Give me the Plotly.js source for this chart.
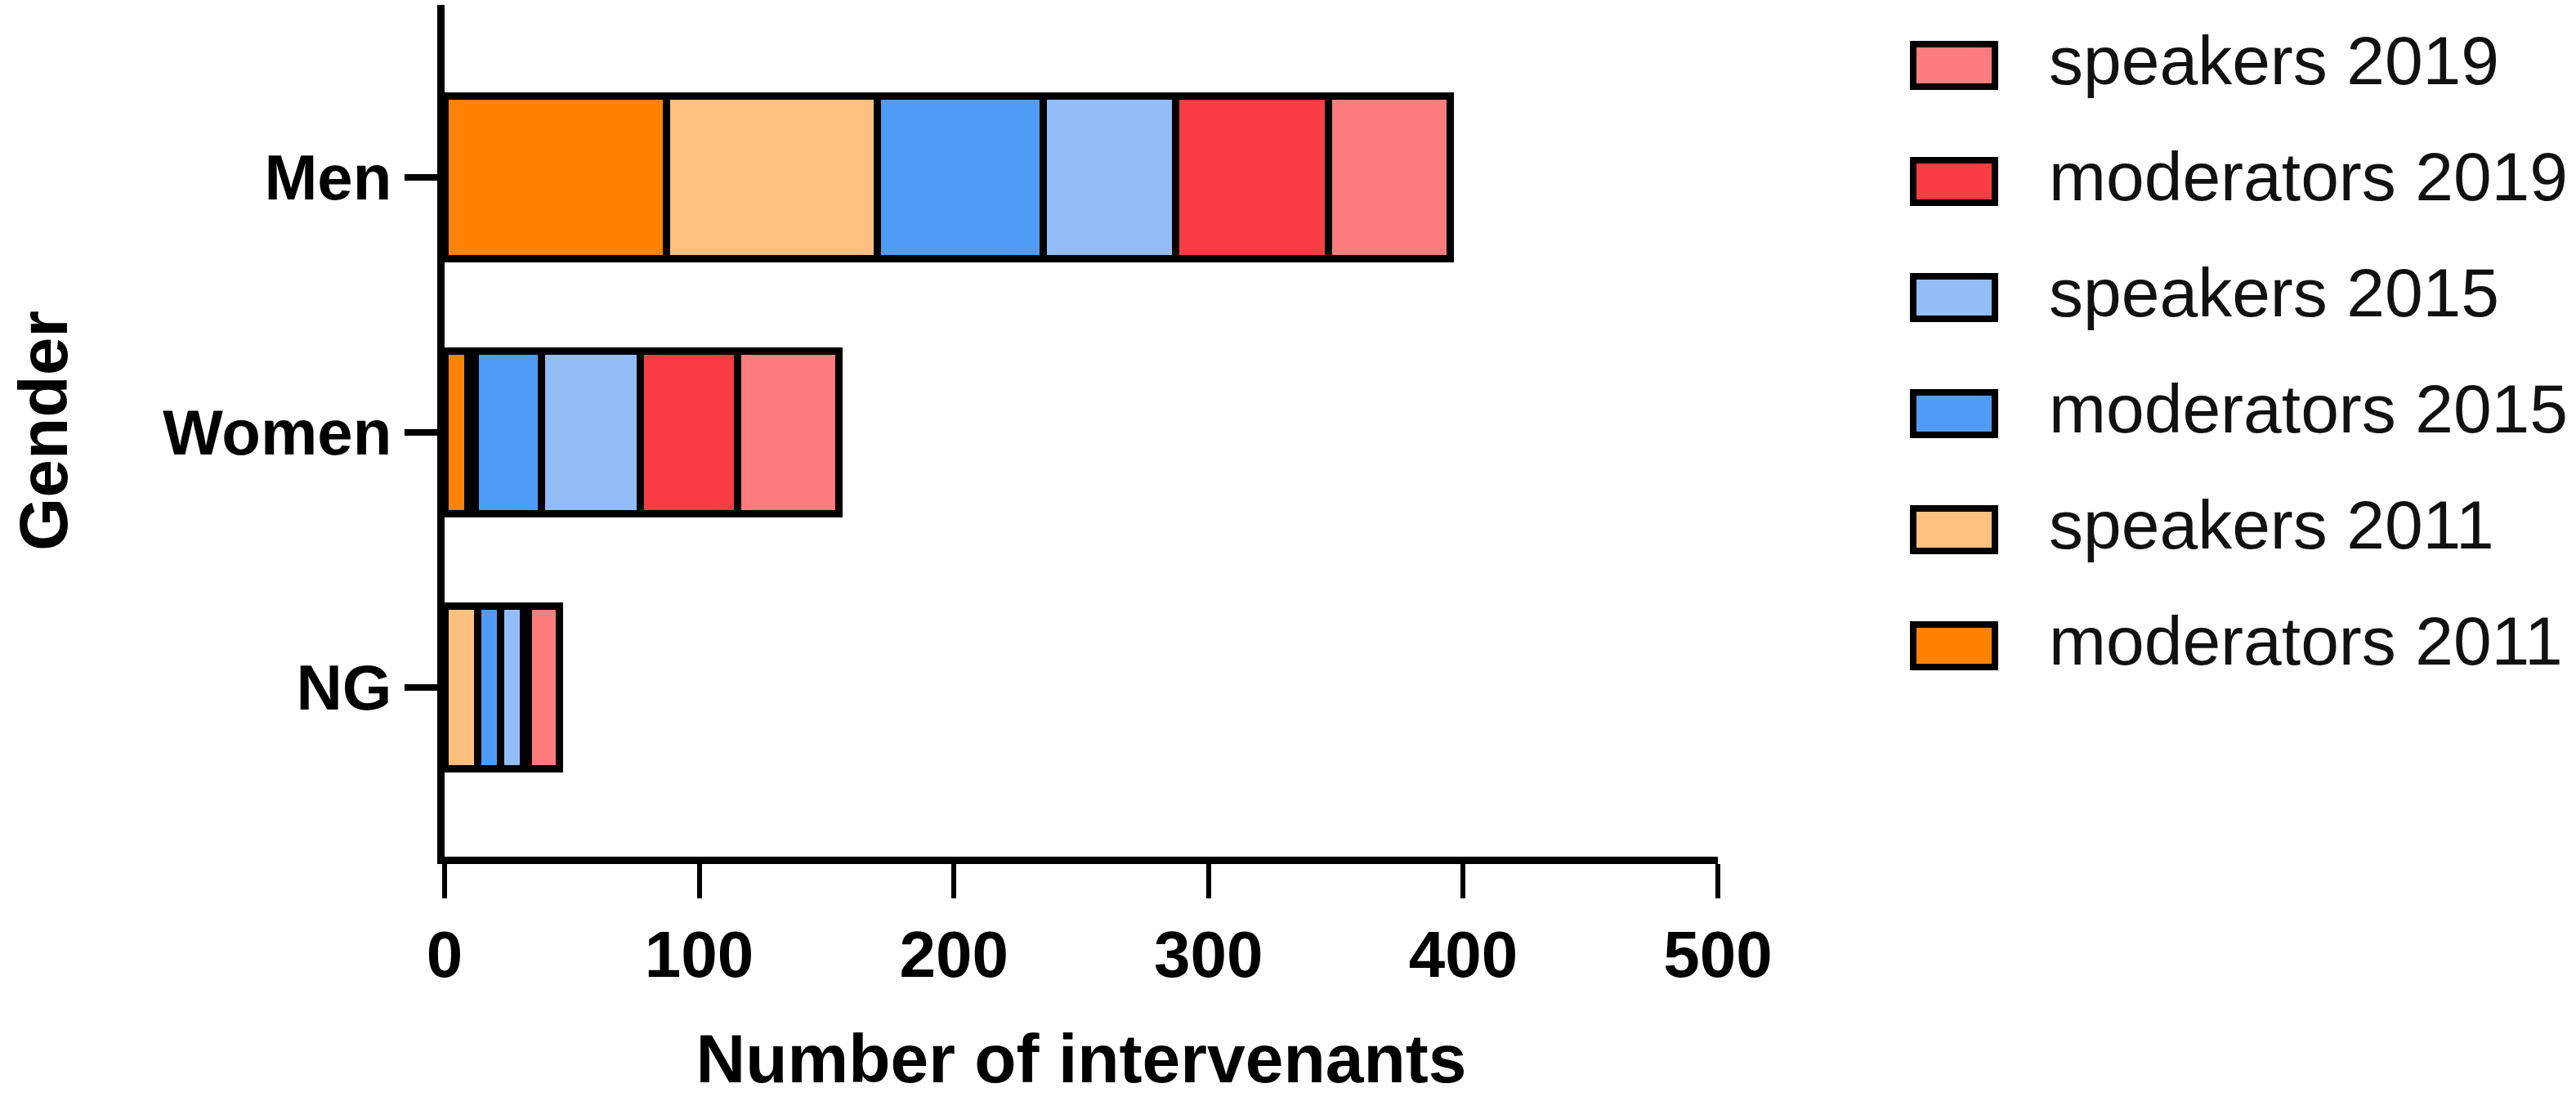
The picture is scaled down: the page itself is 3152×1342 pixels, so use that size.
<!DOCTYPE html>
<html>
<head>
<meta charset="utf-8">
<script src="https://cdn.plot.ly/plotly-3.0.1.min.js"></script>
<style>
  html, body { margin: 0; padding: 0; background: #ffffff; }
  #chart { width: 3152px; height: 1342px; }
</style>
</head>
<body>
<div id="chart"></div>
<script>
// ---- Data ----
const categories = ['NG', 'Women', 'Men'];
const moderators2011 = [0, 9, 87];
const speakers2011   = [13, 3, 83];
const moderators2015 = [9, 26, 65];
const speakers2015   = [9, 39, 52];
const moderators2019 = [2, 38, 60];
const speakers2019   = [12, 40, 48];

const seriesNames  = ['moderators 2011', 'speakers 2011', 'moderators 2015', 'speakers 2015', 'moderators 2019', 'speakers 2019'];
const seriesValues = [moderators2011, speakers2011, moderators2015, speakers2015, moderators2019, speakers2019];
const seriesColors = ['#FF8200', '#FDC07F', '#4F9CF8', '#93BDF7', '#F93D42', '#FD7C7E'];

const xTickVals = [0, 100, 200, 300, 400, 500];
const xTitle = 'Number of intervenants';
const yTitle = 'Gender';

// ---- Traces ----
const traces = seriesNames.map((name, i) => ({
  type: 'bar',
  orientation: 'h',
  name: name,
  y: categories,
  x: seriesValues[i],
  marker: { color: seriesColors[i], line: { color: '#000000', width: 9 } },
  showlegend: false,
  hoverinfo: 'x+name'
}));

// ---- Custom legend (large boxes like the reference) ----
const plotLeft = 544, plotRight = 2102, plotTop = 6, plotBottom = 1048;
const pw = plotRight - plotLeft, ph = plotBottom - plotTop;
const px2paperX = p => (p - plotLeft) / pw;
const px2paperY = p => (plotBottom - p) / ph;

const shapes = [];
const annotations = [];
const legendOrder = seriesNames.map((_, i) => i).reverse();
legendOrder.forEach((idx, row) => {
  const cy = 80 + row * 142;
  shapes.push({
    type: 'rect', xref: 'paper', yref: 'paper',
    x0: px2paperX(2341), x1: px2paperX(2441),
    y0: px2paperY(cy - 26), y1: px2paperY(cy + 26),
    fillcolor: seriesColors[idx],
    line: { color: '#000000', width: 8 }
  });
  annotations.push({
    xref: 'paper', yref: 'paper',
    x: px2paperX(2505), y: px2paperY(cy - 6),
    xanchor: 'left', yanchor: 'middle',
    text: seriesNames[idx], showarrow: false,
    font: { family: 'Liberation Sans, Arial, sans-serif', size: 84, color: '#111111' }
  });
});

const layout = {
  width: 3152, height: 1342,
  margin: { l: plotLeft, r: 3152 - plotRight, t: plotTop, b: 1342 - plotBottom, pad: 0 },
  paper_bgcolor: '#ffffff', plot_bgcolor: '#ffffff',
  barmode: 'stack',
  bargap: 0.36,
  showlegend: false,
  font: { family: 'Liberation Sans, Arial, sans-serif', color: '#000000' },
  xaxis: {
    range: [0, 500],
    tickvals: xTickVals,
    ticktext: xTickVals.map(String),
    showgrid: false, zeroline: false,
    showline: true, linecolor: '#000000', linewidth: 9,
    ticks: 'outside', ticklen: 42, tickwidth: 6, tickcolor: '#000000',
    tickfont: { family: 'Liberation Sans, Arial, sans-serif', size: 80, color: '#000000', weight: 'bold' },
    title: { text: xTitle, standoff: 68,
      font: { family: 'Liberation Sans, Arial, sans-serif', size: 84, color: '#000000', weight: 'bold' } },
    automargin: false,
    fixedrange: true
  },
  yaxis: {
    type: 'category',
    categoryorder: 'array', categoryarray: categories,
    range: [-0.663, 2.676],
    showgrid: false, zeroline: false,
    showline: true, linecolor: '#000000', linewidth: 9,
    ticks: 'outside', ticklen: 40, tickwidth: 8, tickcolor: '#000000',
    tickfont: { family: 'Liberation Sans, Arial, sans-serif', size: 78, color: '#000000', weight: 'bold' },
    title: { text: yTitle, standoff: 92,
      font: { family: 'Liberation Sans, Arial, sans-serif', size: 84, color: '#000000', weight: 'bold' } },
    automargin: false,
    fixedrange: true
  },
  shapes: shapes,
  annotations: annotations
};

Plotly.newPlot('chart', traces, layout, { displayModeBar: false, staticPlot: true });
</script>
</body>
</html>
